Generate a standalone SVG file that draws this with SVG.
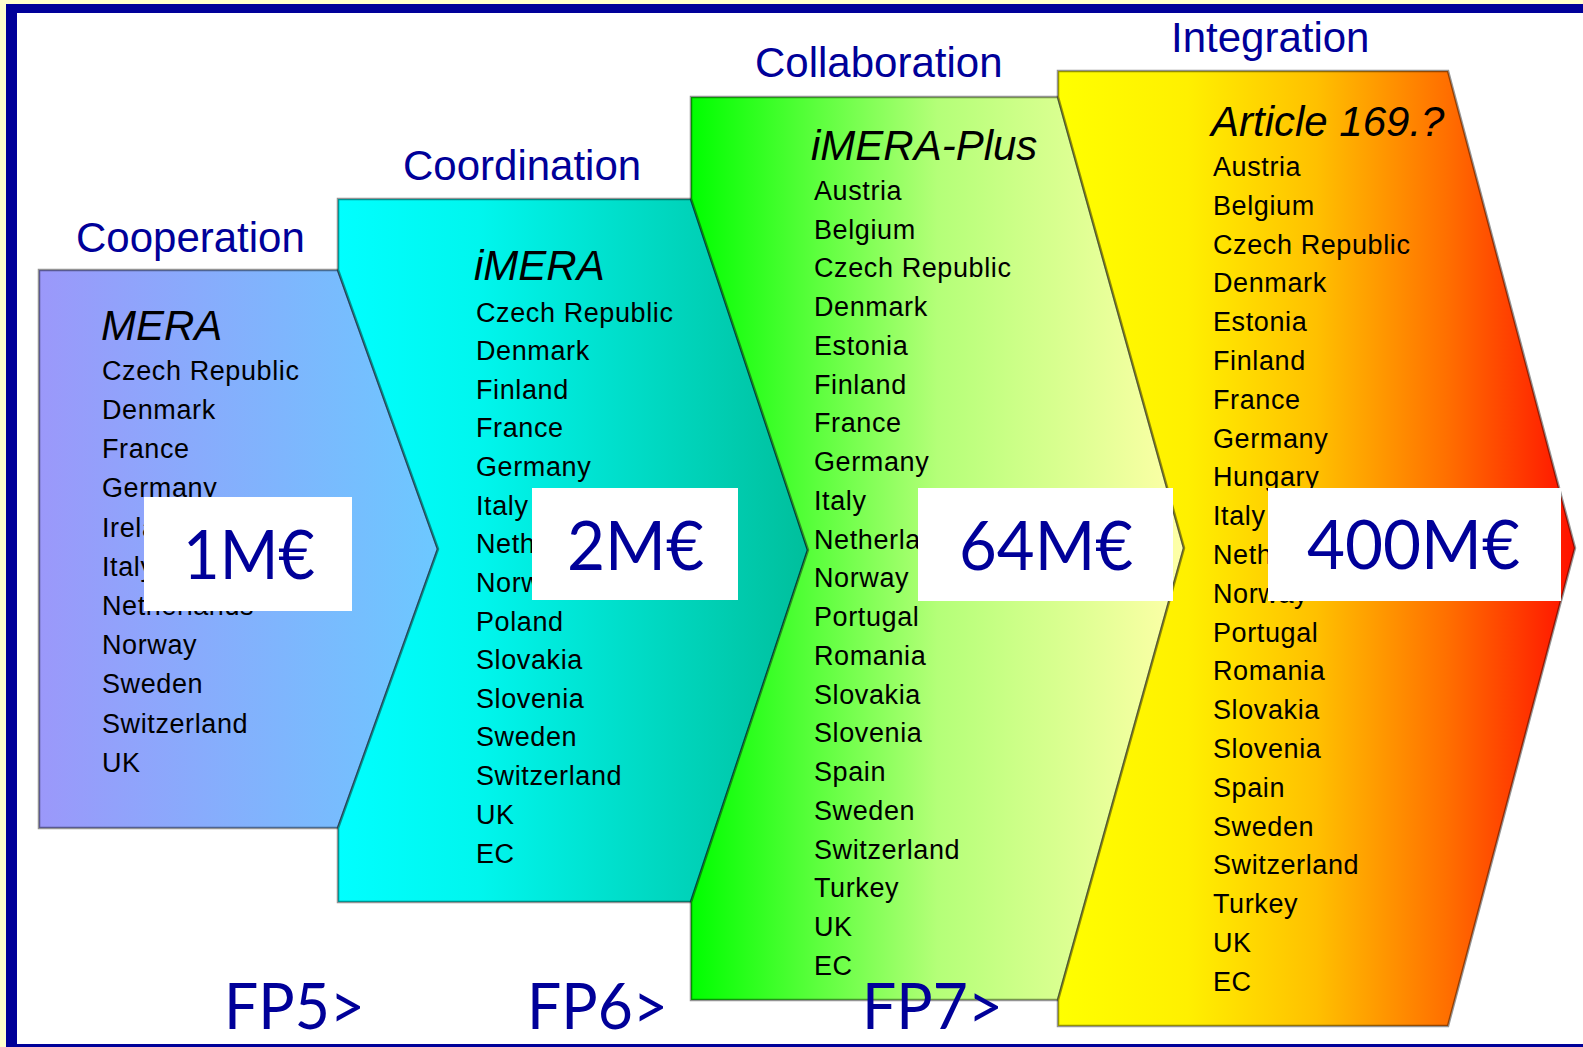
<svg xmlns="http://www.w3.org/2000/svg" width="1583" height="1047" viewBox="0 0 1583 1047">
<style>
.title{font-family:"Liberation Sans",Arial,sans-serif;font-size:42px;fill:#000099}
.head{font-family:"Liberation Sans",Arial,sans-serif;font-size:42px;font-style:italic;fill:#000}
.ctry{font-family:"Liberation Sans",Arial,sans-serif;font-size:27px;letter-spacing:0.6px;fill:#000}
.big{font-family:Lato,"Open Sans",sans-serif;fill:#000099}
.shape{stroke:#000;stroke-opacity:0.42;stroke-width:2.5;stroke-linejoin:miter}
.box{fill:#fff}
</style>
<defs>
<linearGradient id="g1" x1="0" y1="0" x2="1" y2="0">
<stop offset="0" stop-color="#9B98FA"/><stop offset="1" stop-color="#6CC8FF"/>
</linearGradient>
<linearGradient id="g2" x1="0" y1="0" x2="1" y2="0">
<stop offset="0" stop-color="#00FFFF"/><stop offset="0.3" stop-color="#00F6EE"/><stop offset="1" stop-color="#00BF9C"/>
</linearGradient>
<linearGradient id="g3" x1="0" y1="0" x2="1" y2="0">
<stop offset="0" stop-color="#00FF00"/><stop offset="0.5" stop-color="#B4FF78"/><stop offset="1" stop-color="#FFFFA8"/>
</linearGradient>
<linearGradient id="g4" x1="0" y1="0" x2="1" y2="0">
<stop offset="0" stop-color="#FFFF00"/><stop offset="0.25" stop-color="#FFF000"/><stop offset="0.5" stop-color="#FFC000"/><stop offset="0.75" stop-color="#FF7000"/><stop offset="1" stop-color="#FF1000"/>
</linearGradient>
</defs>
<rect x="0" y="0" width="1583" height="1047" fill="#FFFFCC"/>
<rect x="6" y="4" width="1620" height="1060" fill="#000099"/>
<rect x="17" y="13" width="1600" height="1031" fill="#fff"/>

<g id="connectors"></g>

<g id="cooperation">
<text class="title" x="76" y="252">Cooperation</text>
<polygon class="shape" fill="url(#g1)" points="39,270 338,270 438,549 338,828 39,828"/>
<text class="head" x="101" y="340">MERA</text>
<text class="ctry" x="102" y="380">Czech Republic</text>
<text class="ctry" x="102" y="419">Denmark</text>
<text class="ctry" x="102" y="458">France</text>
<text class="ctry" x="102" y="497">Germany</text>
<text class="ctry" x="102" y="537">Ireland</text>
<text class="ctry" x="102" y="576">Italy</text>
<text class="ctry" x="102" y="615">Netherlands</text>
<text class="ctry" x="102" y="654">Norway</text>
<text class="ctry" x="102" y="693">Sweden</text>
<text class="ctry" x="102" y="733">Switzerland</text>
<text class="ctry" x="102" y="772">UK</text>
</g>

<g id="coordination">
<text class="title" x="403" y="180">Coordination</text>
<polygon class="shape" fill="url(#g2)" points="338,199 691,199 808,550 691,902 338,902 338,828 438,549 338,270"/>
<text class="head" x="474" y="280">iMERA</text>
<text class="ctry" x="476" y="322">Czech Republic</text>
<text class="ctry" x="476" y="360">Denmark</text>
<text class="ctry" x="476" y="399">Finland</text>
<text class="ctry" x="476" y="437">France</text>
<text class="ctry" x="476" y="476">Germany</text>
<text class="ctry" x="476" y="515">Italy</text>
<text class="ctry" x="476" y="553">Netherlands</text>
<text class="ctry" x="476" y="592">Norway</text>
<text class="ctry" x="476" y="631">Poland</text>
<text class="ctry" x="476" y="669">Slovakia</text>
<text class="ctry" x="476" y="708">Slovenia</text>
<text class="ctry" x="476" y="746">Sweden</text>
<text class="ctry" x="476" y="785">Switzerland</text>
<text class="ctry" x="476" y="824">UK</text>
<text class="ctry" x="476" y="863">EC</text>
</g>

<g id="collaboration">
<text class="title" x="755" y="77">Collaboration</text>
<polygon class="shape" fill="url(#g3)" points="691,97 1058,97 1184,548 1058,1000 691,1000 691,902 808,550 691,199"/>
<text class="head" x="811" y="160">iMERA-Plus</text>
<text class="ctry" x="814" y="200">Austria</text>
<text class="ctry" x="814" y="239">Belgium</text>
<text class="ctry" x="814" y="277">Czech Republic</text>
<text class="ctry" x="814" y="316">Denmark</text>
<text class="ctry" x="814" y="355">Estonia</text>
<text class="ctry" x="814" y="394">Finland</text>
<text class="ctry" x="814" y="432">France</text>
<text class="ctry" x="814" y="471">Germany</text>
<text class="ctry" x="814" y="510">Italy</text>
<text class="ctry" x="814" y="549">Netherlands</text>
<text class="ctry" x="814" y="587">Norway</text>
<text class="ctry" x="814" y="626">Portugal</text>
<text class="ctry" x="814" y="665">Romania</text>
<text class="ctry" x="814" y="704">Slovakia</text>
<text class="ctry" x="814" y="742">Slovenia</text>
<text class="ctry" x="814" y="781">Spain</text>
<text class="ctry" x="814" y="820">Sweden</text>
<text class="ctry" x="814" y="859">Switzerland</text>
<text class="ctry" x="814" y="897">Turkey</text>
<text class="ctry" x="814" y="936">UK</text>
<text class="ctry" x="814" y="975">EC</text>
</g>

<g id="integration">
<text class="title" x="1171" y="52">Integration</text>
<polygon class="shape" fill="url(#g4)" points="1058,71 1448,71 1575,548 1448,1026 1058,1026 1058,1000 1184,548 1058,97"/>
<text class="head" x="1211" y="136">Article 169.?</text>
<text class="ctry" x="1213" y="176">Austria</text>
<text class="ctry" x="1213" y="215">Belgium</text>
<text class="ctry" x="1213" y="254">Czech Republic</text>
<text class="ctry" x="1213" y="292">Denmark</text>
<text class="ctry" x="1213" y="331">Estonia</text>
<text class="ctry" x="1213" y="370">Finland</text>
<text class="ctry" x="1213" y="409">France</text>
<text class="ctry" x="1213" y="448">Germany</text>
<text class="ctry" x="1213" y="486">Hungary</text>
<text class="ctry" x="1213" y="525">Italy</text>
<text class="ctry" x="1213" y="564">Netherlands</text>
<text class="ctry" x="1213" y="603">Norway</text>
<text class="ctry" x="1213" y="642">Portugal</text>
<text class="ctry" x="1213" y="680">Romania</text>
<text class="ctry" x="1213" y="719">Slovakia</text>
<text class="ctry" x="1213" y="758">Slovenia</text>
<text class="ctry" x="1213" y="797">Spain</text>
<text class="ctry" x="1213" y="836">Sweden</text>
<text class="ctry" x="1213" y="874">Switzerland</text>
<text class="ctry" x="1213" y="913">Turkey</text>
<text class="ctry" x="1213" y="952">UK</text>
<text class="ctry" x="1213" y="991">EC</text>
</g>

<g id="budget-1">
<rect class="box" x="144" y="497" width="208" height="114"/>
<text class="big" x="183" y="579" font-size="68" textLength="132" lengthAdjust="spacingAndGlyphs">1M€</text>
</g>
<g id="budget-2">
<rect class="box" x="532" y="488" width="206" height="112"/>
<text class="big" x="567" y="570" font-size="68" textLength="137" lengthAdjust="spacingAndGlyphs">2M€</text>
</g>
<g id="budget-3">
<rect class="box" x="918" y="488" width="255" height="113"/>
<text class="big" x="959" y="570" font-size="68" textLength="174" lengthAdjust="spacingAndGlyphs">64M€</text>
</g>
<g id="budget-4">
<rect class="box" x="1268" y="488" width="293" height="113"/>
<text class="big" x="1307" y="569" font-size="68" textLength="213" lengthAdjust="spacingAndGlyphs">400M€</text>
</g>

<g id="fp5"><text class="big" x="224" y="1029" font-size="64" textLength="141" lengthAdjust="spacingAndGlyphs">FP5&gt;</text></g>
<g id="fp6"><text class="big" x="527" y="1029" font-size="64" textLength="141" lengthAdjust="spacingAndGlyphs">FP6&gt;</text></g>
<g id="fp7"><text class="big" x="862" y="1029" font-size="64" textLength="141" lengthAdjust="spacingAndGlyphs">FP7&gt;</text></g>
</svg>
